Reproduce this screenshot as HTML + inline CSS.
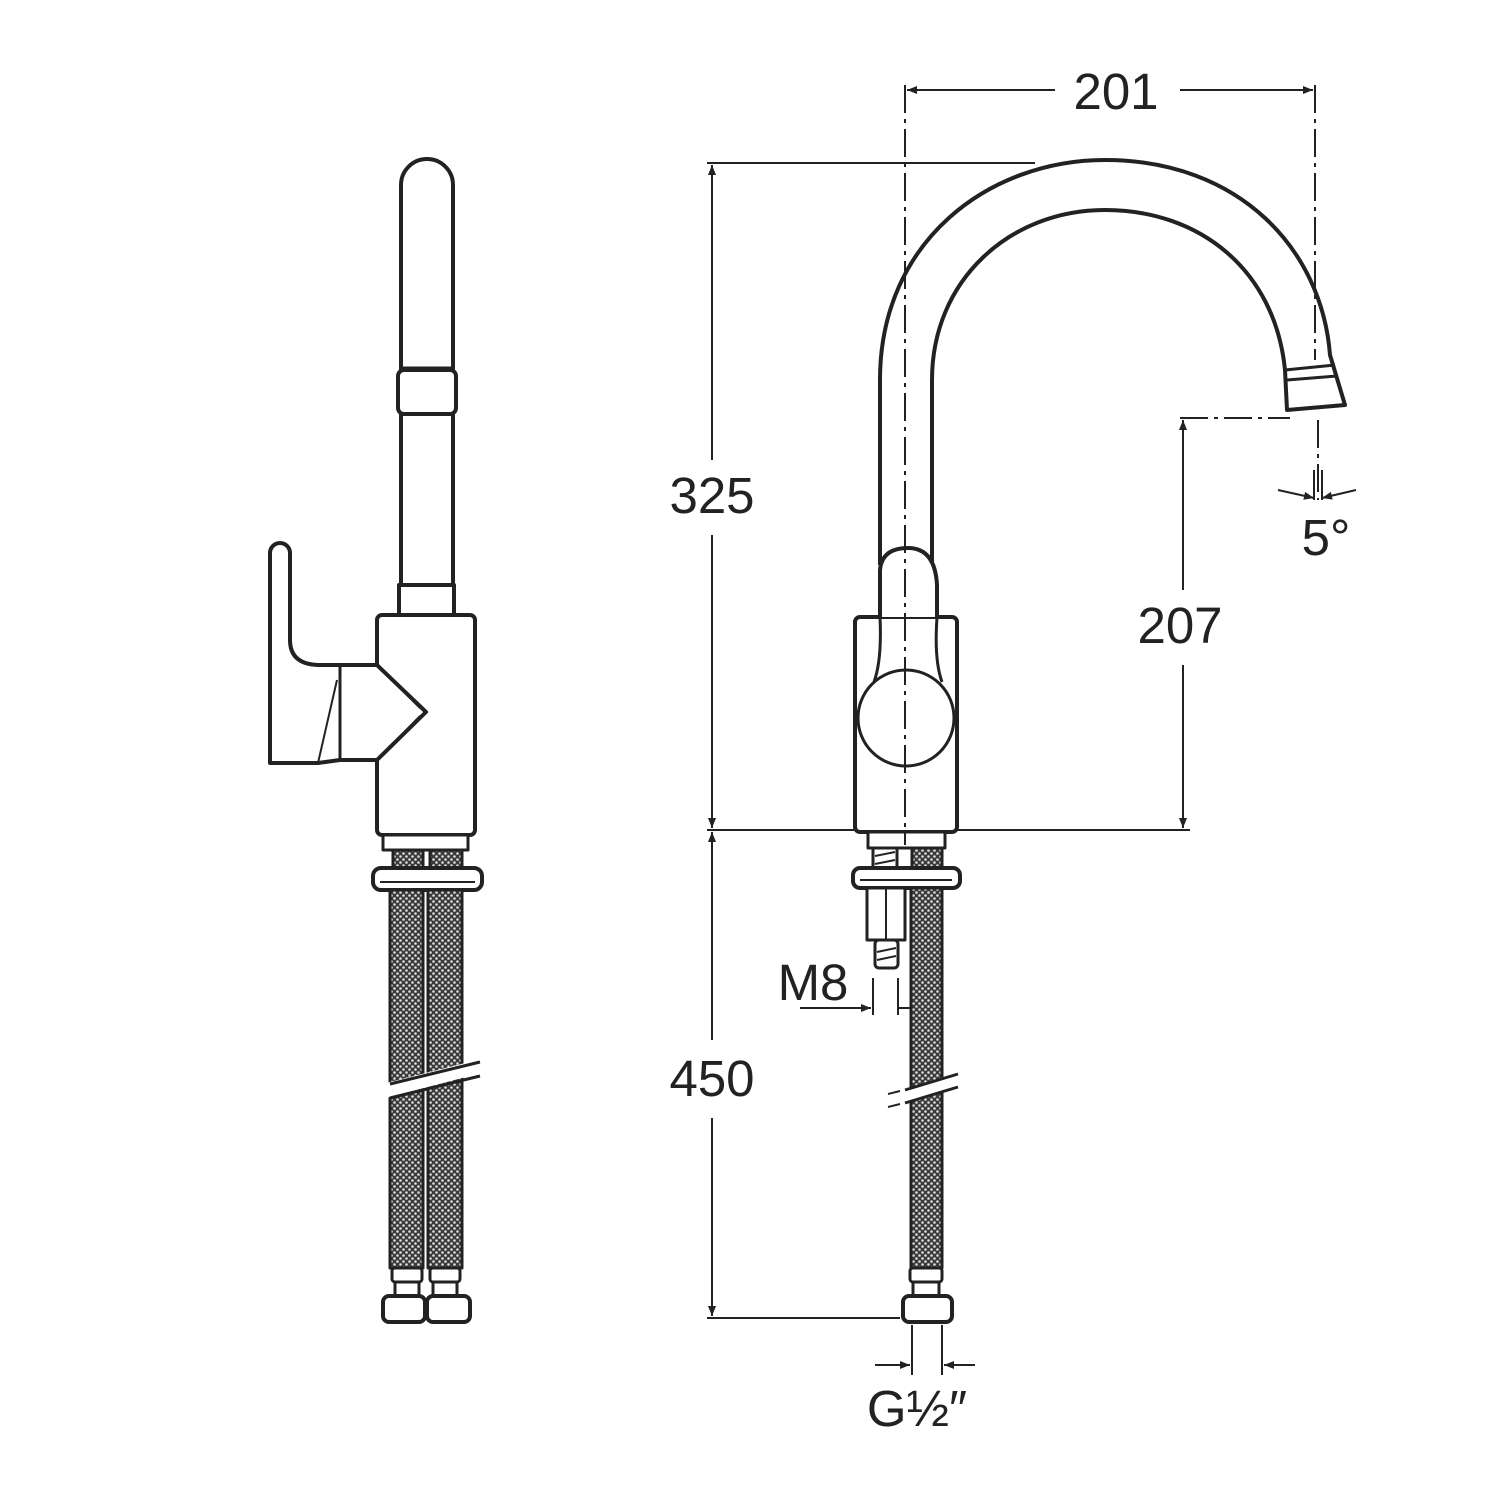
<!DOCTYPE html>
<html><head><style>html,body{margin:0;padding:0;background:#fff;overflow:hidden}svg{display:block}</style></head>
<body>
<svg width="1500" height="1500" viewBox="0 0 1500 1500" xmlns="http://www.w3.org/2000/svg" font-family="Liberation Sans, sans-serif">
<defs>
<pattern id="br" width="6" height="6" patternUnits="userSpaceOnUse">
<rect width="6" height="6" fill="#3a3a3a"/><circle cx="1.5" cy="1.5" r="1.3" fill="#ddd"/><circle cx="4.5" cy="4.5" r="1.3" fill="#ddd"/>
</pattern>
<marker id="ar" viewBox="0 0 10 10" refX="10" refY="5" markerWidth="14" markerHeight="10" orient="auto-start-reverse" markerUnits="userSpaceOnUse"><path d="M0,1 L10,5 L0,9 z" fill="#222"/></marker>
</defs>
<g fill="none" stroke="#222" stroke-width="4" stroke-linejoin="round">
<!-- LEFT VIEW -->
<path d="M401,585 V185 A26,26 0 0 1 453,185 V585" fill="#fff"/>
<rect x="398" y="370" width="58" height="44" rx="6" fill="#fff"/>
<line x1="401" y1="368" x2="453" y2="368" stroke-width="3"/>
<rect x="399" y="585" width="55" height="30" fill="#fff"/>
<rect x="377" y="615" width="98" height="220" rx="5" fill="#fff"/>
<path d="M270,763 V553 A10,10 0 0 1 290,553 V640 Q290,664 318,665 L377,665 L426,712 L377,760 L340,760 L318,763 Z" fill="#fff"/>
<line x1="340" y1="665" x2="340" y2="760" stroke-width="3"/>
<path d="M377,665 L420,708 M377,760 L420,716 M337,680 L318,763" stroke-width="2"/>
<rect x="383" y="835" width="85" height="15" fill="#fff" stroke-width="3"/>
<rect x="393" y="850" width="30" height="18" fill="url(#br)" stroke-width="3"/>
<rect x="430" y="850" width="32" height="18" fill="url(#br)" stroke-width="3"/>
<rect x="373" y="868" width="109" height="22" rx="8" fill="#fff"/>
<line x1="380" y1="882" x2="475" y2="882" stroke-width="2"/>
<rect x="390" y="890" width="33" height="378" fill="url(#br)" stroke-width="3"/>
<rect x="428" y="890" width="34" height="378" fill="url(#br)" stroke-width="3"/>
<path d="M378,1085 L485,1058 L485,1072 L378,1100 Z" fill="#fff" stroke="none"/>
<path d="M390,1084 L480,1062 M390,1098 L480,1076" stroke-width="3"/>
<rect x="392" y="1268" width="30" height="14" rx="3" fill="#fff" stroke-width="3"/>
<rect x="430" y="1268" width="30" height="14" rx="3" fill="#fff" stroke-width="3"/>
<rect x="395" y="1282" width="24" height="14" fill="#fff" stroke-width="3"/>
<rect x="433" y="1282" width="24" height="14" fill="#fff" stroke-width="3"/>
<rect x="383" y="1296" width="42" height="26" rx="6" fill="#fff"/>
<rect x="427" y="1296" width="43" height="26" rx="6" fill="#fff"/>

<!-- RIGHT VIEW spout -->
<path d="M880,565 V380 C880,240 990,160 1105,160 C1240,160 1322,250 1330,355 L1345,405 L1287,410 L1285,370 C1275,270 1200,210 1105,210 C1010,210 932,280 932,380 V590" fill="#fff"/>
<path d="M1285,370 L1335,365 M1287,380 L1337,376" stroke-width="3"/>
<rect x="855" y="617" width="102" height="215" rx="5" fill="#fff"/>
<path d="M880,617 V570 Q882,548 908,548 Q935,548 937,585 V617" fill="#fff" stroke-width="4"/>
<path d="M880,617 Q882,660 874,682 M937,617 Q934,660 942,682" stroke-width="3"/>
<circle cx="906" cy="718" r="48" fill="none" stroke-width="3"/>
<rect x="868" y="832" width="77" height="16" fill="#fff" stroke-width="3"/>
<rect x="873" y="848" width="24" height="20" fill="#fff" stroke-width="3"/>
<path d="M875,856 L895,852 M875,864 L895,860" stroke-width="2"/>
<rect x="912" y="848" width="30" height="20" fill="url(#br)" stroke-width="3"/>
<rect x="853" y="868" width="107" height="20" rx="7" fill="#fff"/>
<line x1="860" y1="880" x2="952" y2="880" stroke-width="2"/>
<rect x="867" y="888" width="38" height="52" fill="#fff" stroke-width="3"/>
<line x1="886" y1="888" x2="886" y2="940" stroke-width="2"/>
<rect x="875" y="940" width="23" height="28" rx="4" fill="#fff" stroke-width="3"/>
<path d="M877,952 L896,948 M877,960 L896,956" stroke-width="2"/>
<rect x="911" y="888" width="31" height="380" fill="url(#br)" stroke-width="3"/>
<path d="M890,1095 L960,1072 L960,1085 L890,1108 Z" fill="#fff" stroke="none"/>
<path d="M905,1090 L958,1074 M905,1103 L958,1087" stroke-width="3"/>
<path d="M888,1094 L900,1091 M888,1107 L900,1104" stroke-width="2"/>
<rect x="910" y="1268" width="32" height="14" rx="3" fill="#fff" stroke-width="3"/>
<rect x="913" y="1282" width="26" height="14" fill="#fff" stroke-width="3"/>
<rect x="903" y="1296" width="49" height="26" rx="6" fill="#fff"/>
</g>

<!-- dimension lines -->
<g fill="none" stroke="#222" stroke-width="2">
<line x1="905" y1="85" x2="905" y2="845" stroke-dasharray="28,6,4,6"/>
<line x1="1315" y1="85" x2="1315" y2="360" stroke-dasharray="28,6,4,6"/>
<line x1="1318" y1="420" x2="1318" y2="500" stroke-dasharray="28,6,4,6"/>
<line x1="1180" y1="418" x2="1290" y2="418" stroke-dasharray="28,6,4,6"/>
<line x1="1055" y1="90" x2="907" y2="90" marker-end="url(#ar)"/>
<line x1="1180" y1="90" x2="1313" y2="90" marker-end="url(#ar)"/>
<line x1="707" y1="163" x2="1035" y2="163"/>
<line x1="707" y1="830" x2="855" y2="830"/>
<line x1="957" y1="830" x2="1190" y2="830"/>
<line x1="712" y1="460" x2="712" y2="165" marker-end="url(#ar)"/>
<line x1="712" y1="535" x2="712" y2="828" marker-end="url(#ar)"/>
<line x1="712" y1="1040" x2="712" y2="832" marker-end="url(#ar)"/>
<line x1="712" y1="1118" x2="712" y2="1316" marker-end="url(#ar)"/>
<line x1="707" y1="1318" x2="900" y2="1318"/>
<line x1="1183" y1="590" x2="1183" y2="420" marker-end="url(#ar)"/>
<line x1="1183" y1="665" x2="1183" y2="828" marker-end="url(#ar)"/>
<line x1="1278" y1="490" x2="1314" y2="498" marker-end="url(#ar)"/>
<line x1="1356" y1="490" x2="1322" y2="498" marker-end="url(#ar)"/>
<line x1="1314" y1="470" x2="1314" y2="500"/><line x1="1322" y1="470" x2="1322" y2="500"/>
<line x1="873" y1="978" x2="873" y2="1015"/><line x1="898" y1="978" x2="898" y2="1015"/>
<line x1="800" y1="1008" x2="871" y2="1008" marker-end="url(#ar)"/>
<line x1="898" y1="1008" x2="912" y2="1008"/>
<line x1="912" y1="1325" x2="912" y2="1375"/><line x1="942" y1="1325" x2="942" y2="1375"/>
<line x1="875" y1="1365" x2="910" y2="1365" marker-end="url(#ar)"/>
<line x1="975" y1="1365" x2="944" y2="1365" marker-end="url(#ar)"/>
</g>
<g fill="#222" font-size="51" text-anchor="middle">
<text x="1116" y="109">201</text>
<text x="712" y="513">325</text>
<text x="1180" y="643">207</text>
<text x="712" y="1096">450</text>
<text x="1326" y="555">5°</text>
<text x="813" y="1000">M8</text>
<text x="917" y="1426">G½″</text>
</g>
</svg>
</body></html>
